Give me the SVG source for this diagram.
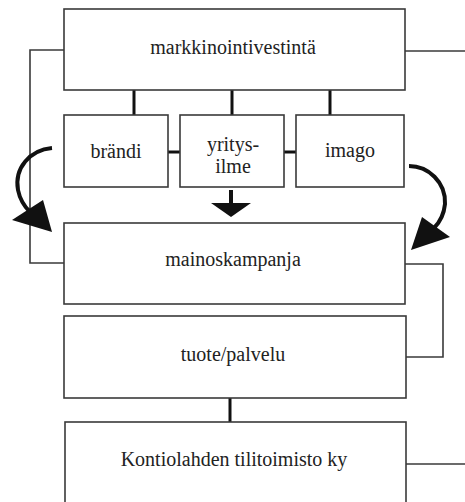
<svg xmlns="http://www.w3.org/2000/svg" width="465" height="502" viewBox="0 0 465 502">
<style>
.box{fill:#fff;stroke:#3a3a3a;stroke-width:1.6}
.t{font-family:'Liberation Serif','DejaVu Serif',serif;font-size:20px;fill:#222;text-anchor:middle}
.thin{fill:none;stroke:#3a3a3a;stroke-width:1.6}
.thick{fill:none;stroke:#111;stroke-width:3}
.curve{fill:none;stroke:#111;stroke-width:4}
.head{fill:#111;stroke:none}
</style>
<rect width="465" height="502" fill="#fff"/>
<g id="connectors">
<polyline class="thin" points="64,50 30,50 30,263 64,263"/>
<polyline class="thin" points="405,51 465,51"/>
<polyline class="thin" points="405,264 443,264 443,357 406,357"/>
<polyline class="thin" points="406,464 465,464"/>
<line class="thick" x1="134" y1="90" x2="134" y2="115"/>
<line class="thick" x1="232" y1="90" x2="232" y2="115"/>
<line class="thick" x1="330" y1="90" x2="330" y2="115"/>
<line class="thick" x1="168" y1="152" x2="180" y2="152"/>
<line class="thick" x1="284" y1="152" x2="296" y2="152"/>
<line class="thick" x1="230" y1="398" x2="230" y2="422"/>
<line x1="231" y1="190" x2="231" y2="204" stroke="#111" stroke-width="4"/>
<polygon class="head" points="211,203 251,203 231,217"/>
<path class="curve" d="M52,148 C30,150 14,168 18,190 C20,200 24,206 30,212"/>
<polygon class="head" points="12,220 43,200 52,232"/>
<path class="curve" d="M409,166 C428,166 446,182 445,204 C444,214 440,222 434,228"/>
<polygon class="head" points="422,217 450,237 411,250"/>
</g>
<g id="markkinointivestinta">
<rect class="box" x="64" y="9" width="341" height="81"/>
<text class="t" font-family="Liberation Serif, serif" x="233" y="54">markkinointivestintä</text>
</g>
<g id="brandi">
<rect class="box" x="64" y="115" width="104" height="72"/>
<text class="t" font-family="Liberation Serif, serif" x="116" y="158">brändi</text>
</g>
<g id="yritysilme">
<rect class="box" x="180" y="115" width="104" height="72"/>
<text class="t" font-family="Liberation Serif, serif" x="233" y="151">yritys-</text>
<text class="t" font-family="Liberation Serif, serif" x="233" y="173">ilme</text>
</g>
<g id="imago">
<rect class="box" x="296" y="115" width="108" height="72"/>
<text class="t" font-family="Liberation Serif, serif" x="350" y="157">imago</text>
</g>
<g id="mainoskampanja">
<rect class="box" x="64" y="223" width="341" height="81"/>
<text class="t" font-family="Liberation Serif, serif" x="233" y="266">mainoskampanja</text>
</g>
<g id="tuotepalvelu">
<rect class="box" x="64" y="316" width="342" height="82"/>
<text class="t" font-family="Liberation Serif, serif" x="233" y="361">tuote/palvelu</text>
</g>
<g id="kontiolahden">
<rect class="box" x="65" y="422" width="341" height="90"/>
<text class="t" font-family="Liberation Serif, serif" x="234" y="466">Kontiolahden tilitoimisto ky</text>
</g>
</svg>
